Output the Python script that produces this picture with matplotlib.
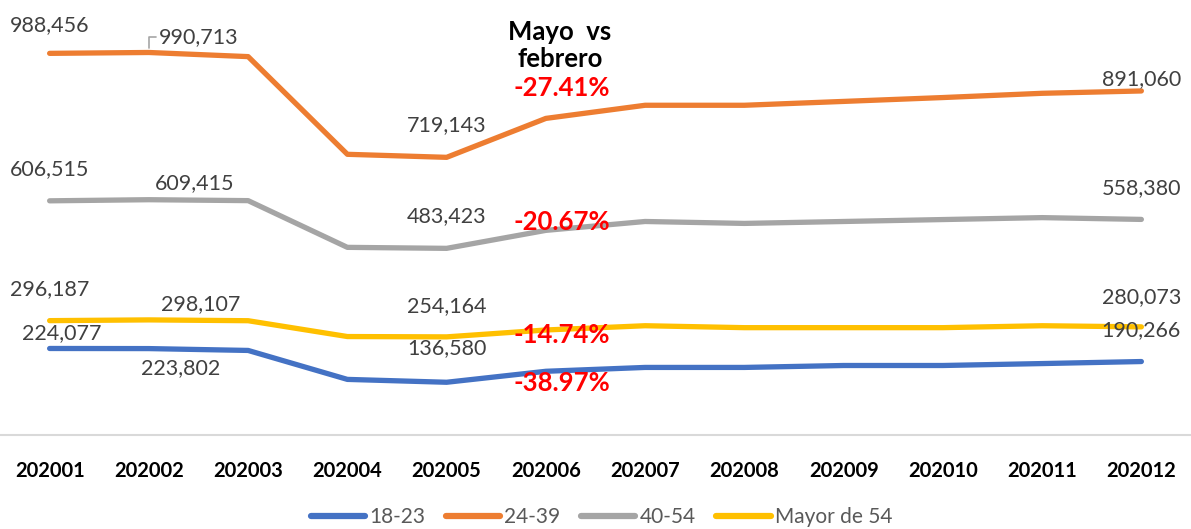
import matplotlib
matplotlib.use("Agg")
import matplotlib.pyplot as plt

plt.rcParams["font.family"] = ["Lato", "DejaVu Sans"]

months = ["202001", "202002", "202003", "202004", "202005", "202006",
          "202007", "202008", "202009", "202010", "202011", "202012"]
s_18_23 = [224077, 223802, 219000, 144000, 136580, 165000,
           175000, 175000, 180000, 180000, 185000, 190266]
s_24_39 = [988456, 990713, 980000, 727000, 719143, 820000,
           854000, 854000, 864000, 874000, 885000, 891060]
s_40_54 = [606515, 609415, 607000, 486000, 483423, 530000,
           553000, 548000, 553000, 558000, 563000, 558380]
s_54 = [296187, 298107, 296000, 255000, 254164, 272000,
        283000, 278000, 278000, 278000, 283000, 280073]

series = [("18-23", s_18_23, "#4472C4"),
          ("24-39", s_24_39, "#ED7D31"),
          ("40-54", s_40_54, "#A5A5A5"),
          ("Mayor de 54", s_54, "#FFC000")]

# labelled points: (series, index, dx px, dy px)
labels = [
    (s_24_39, 0, 0, 28), (s_24_39, 4, 0, 32), (s_24_39, 11, 0, 12),
    (s_40_54, 0, 0, 32), (s_40_54, 1, 46, 17), (s_40_54, 4, 0, 32), (s_40_54, 11, 0, 31),
    (s_54, 0, 0, 32), (s_54, 1, 52, 16), (s_54, 4, 0, 31), (s_54, 11, 0, 30),
    (s_18_23, 0, 12, 15), (s_18_23, 1, 32, -20), (s_18_23, 4, 0, 34), (s_18_23, 11, 0, 31),
]
pct_text = ["-27.41%", "-20.67%", "-14.74%", "-38.97%"]
pct_y = [898000, 552000, 259000, 135000]

fig = plt.figure(figsize=(11.91, 5.29), dpi=100)
ax = fig.add_axes([0, 0.1777, 1, 0.8223])
x = list(range(len(months)))
for name, vals, col in series:
    ax.plot(x, vals, color=col, lw=3.8, solid_capstyle="round", label=name)

ax.set_xlim(-0.5, 11.5)
ax.set_ylim(0, 1126650)
for sp in ["top", "right", "left"]:
    ax.spines[sp].set_visible(False)
ax.spines["bottom"].set_color("#D9D9D9")
ax.spines["bottom"].set_linewidth(1.5)
ax.set_yticks([])
ax.set_xticks(x)
ax.set_xticklabels(months, fontweight="bold", fontsize=14.5)
ax.tick_params(axis="x", length=0, pad=19)

for vals, i, dx, dy in labels:
    ax.annotate(f"{vals[i]:,}", (i, vals[i]), xytext=(dx, dy),
                textcoords="offset pixels", ha="center", va="center",
                fontsize=15.5, color="#404040")

# leader line for 990,713
ax.annotate(f"{s_24_39[1]:,}", (1, s_24_39[1]), xytext=(50, 15),
            textcoords="offset pixels", ha="center", va="center",
            fontsize=15.5, color="#404040",
            arrowprops=dict(arrowstyle="-", color="#A5A5A5", lw=1.2,
                            shrinkA=26, shrinkB=3,
                            connectionstyle="angle,angleA=0,angleB=90,rad=0"))

ax.text(5.14, 1010000, "Mayo  vs\nfebrero", ha="center", va="center",
        fontsize=18.5, fontweight="bold", color="black", linespacing=1.15)
for t, yv in zip(pct_text, pct_y):
    ax.text(5.16, yv, t, ha="center", va="center", fontsize=18.5,
            fontweight="bold", color="#FF0000")

leg = fig.legend(loc="center", bbox_to_anchor=(0.505, 0.023), ncol=4,
                 frameon=False, fontsize=15, handlelength=2.6,
                 columnspacing=1.0, handletextpad=0.2)
for ln in leg.get_lines():
    ln.set_linewidth(4.5)
for t in leg.get_texts():
    t.set_color("#595959")

fig.savefig("out.png", dpi=100)
